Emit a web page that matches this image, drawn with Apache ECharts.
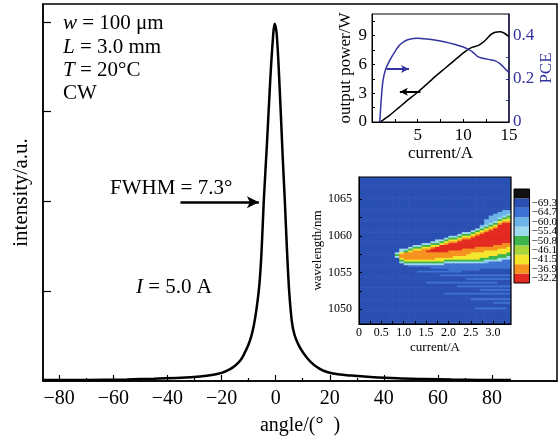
<!DOCTYPE html>
<html><head><meta charset="utf-8">
<script src="https://cdn.jsdelivr.net/npm/echarts@6/dist/echarts.min.js"></script>
<style>html,body{margin:0;padding:0;background:#fff}#c{width:560px;height:441px}</style>
</head><body><div id="c"></div><script>
// ---------- main far-field profile ----------
const angle = [-86,-70,-55,-45,-35,-28,-23,-20,-17,-15,-13,-11.5,-10,-9,-8,-7,-6,-5.2,-4.4,-3.2,-2,-1,-0.4,0.4,1.5,2.6,3.4,4.2,5,6,7,8.5,10.5,13,16,19,23,28,35,45,55,65,75,87];
const intensity = [0.01,0.012,0.018,0.025,0.035,0.05,0.07,0.09,0.13,0.17,0.23,0.31,0.41,0.5,0.63,0.82,1.08,1.45,2.0,2.65,3.35,3.82,3.98,3.86,3.25,2.5,2.0,1.45,1.0,0.66,0.51,0.4,0.3,0.21,0.14,0.1,0.075,0.06,0.045,0.03,0.022,0.016,0.012,0.01];
const mainXTicks = [-80,-60,-40,-20,0,20,40,60,80];
const mainXMinor = [-70,-50,-30,-10,10,30,50,70];
const mainYTicks = [1,2,3,4];
const fwhmArrow = [[-35.2,1.99],[-6.2,1.99]];

// ---------- inset 1: output power & PCE ----------
const currentP = [0.9,2,3,4,5,6,7,8,9,10,10.5,11,11.6,12,12.5,13,13.5,14,14.4,15];
const powerW = [0,0.75,1.55,2.35,3.1,3.95,4.8,5.6,6.4,7.2,7.55,7.8,7.95,8.2,8.6,9.1,9.35,9.4,9.3,8.9];
const currentE = [0.85,1.0,1.2,1.5,2,2.5,3,3.5,4,5,6,7,8,9,10,10.5,11,11.5,12,12.5,13,13.5,14,14.5,15];
const pceVal = [0,0.1,0.19,0.245,0.29,0.325,0.355,0.372,0.382,0.388,0.384,0.378,0.37,0.36,0.347,0.337,0.325,0.305,0.296,0.292,0.288,0.283,0.27,0.25,0.228];
const insXTicks = [2.5,5,7.5,10,12.5];
const insXLabels = [5,10,15];
const insPTicks = [1.5,3,4.5,6,7.5,9,10.5];
const insPLabels = [0,3,6,9];
const insETicks = [0.1,0.2,0.3,0.4];
const insELabels = [0,0.2,0.4];
const powerArrow = [[5.3,3.15],[3.05,3.15]];
const pceArrow = [[1.6,0.245],[4.05,0.245]];

// ---------- inset 2: spectral map ----------
const hmLevels = [-69.3,-64.7,-60.0,-55.4,-50.8,-46.1,-41.5,-36.9,-32.2];
const hmColors = ['#2b50b3','#3d72d2','#6cb3ea','#9fdaec','#3db54a','#a8d43c','#f3e62c','#f5921e','#e32a20'];
const hmX0 = 0, hmXStep = 0.1, hmYTop = 1068, hmYStep = 0.25;
const Z = "0000000000 0000000000 0000000000 0000";
const hmRows = [
Z,Z,Z,Z,Z,Z,Z,Z,Z,Z,Z,Z,Z,Z,Z,Z,Z,Z,
"0000000000 0000000000 0000000000 0022",
"0000000000 0000000000 0000000000 0222",
"0000000000 0000000000 0000000000 2223",
"0000000000 0000000000 0000000002 2234",
"0000000000 0000000000 0000000002 2345",
"0000000000 0000000000 0000000022 2466",
"0000000000 0000000000 0000000022 3677",
"0000000000 0000000000 0000000023 4788",
"0000000000 0000000000 0000000234 6888",
"0000000000 0000000000 0000000346 7888",
"0000000000 0000000000 0000003467 8888",
"0000000000 0000000000 0000034678 8888",
"0000000000 0000000000 0003346788 8888",
"0000000000 0000000000 0034467888 8888",
"0000000000 0000000000 3346678888 8888",
"0000000000 0000000003 4467788888 8888",
"0000000000 0000000334 6678888888 8888",
"0000000000 0000003346 7788888888 8888",
"0000000000 0000334467 8888888888 8877",
"0000000000 0033446688 8888888888 7777",
"0000000000 0344667888 8888887777 7776",
"0000000003 3466778888 8887777777 7666",
"0000000003 4677788888 7777777766 6666",
"0000000036 7777777777 7777766666 6664",
"0000000047 7777777777 7777666666 6444",
"0000000037 7777777777 7666666664 4443",
"0000000006 7777777666 6666666444 4333",
"0000000004 6666666664 4444444433 3311",
"0000000003 4444444443 3333333321 1111",
"0000000000 3333333331 1111111111 1111",
"0000000000 0111111111 1111111111 1111",
"0000000000 0000001111 1111111111 1111",
"0000000000 0000000000 1111111000 0000",
"0000000000 0001111111 1110000000 0000",
Z,
"0000000000 0000000011 1111111111 1111",
Z,
"0000000000 0000000000 0000111111 1111",
Z,
"0000000000 0000011111 1111111111 1000",
Z,
"0000000000 0000000000 0011111111 1111",
Z,
"0000000000 0000000000 0000000111 1111",
Z,
"0000000000 0000000001 1111111111 1111",
Z,Z,
"0000000000 0000000000 0000011111 1111",
Z,
"0000000000 0000000000 0000000000 1111",
Z,Z,
"0000000000 0000000000 0000001111 1110",
Z,Z,Z,Z,Z,Z,Z,Z
];
const hmXTicks = [0.25,0.5,0.75,1,1.25,1.5,1.75,2,2.25,2.5,2.75,3,3.25];
const hmXLabels = [0,0.5,1,1.5,2,2.5,3];
const hmYTicks = [1050,1052.5,1055,1057.5,1060,1062.5,1065];
const hmYLabels = [1050,1055,1060,1065];
// colour bar, bottom to top
const cbLabels = ['\u221232.2','\u221236.9','\u221241.5','\u221246.1','\u221250.8','\u221255.4','\u221260.0','\u221264.7','\u221269.3',''];
const cbColors = ['#e32a20','#f5921e','#f3e62c','#a8d43c','#3db54a','#9fdaec','#6cb3ea','#3d72d2','#2b50b3','#111111'];

const hmData = [];
hmRows.forEach((row, r) => {
  const s = row.replace(/ /g, '');
  for (let c = 0; c < s.length; c++) {
    hmData.push([hmX0 + c * hmXStep, hmYTop - (r + 1) * hmYStep, +s[c]]);
  }
});

const FF = 'Liberation Serif';
const BLUE = '#33339f';
const minus = v => (v < 0 ? '\u2212' + (-v) : String(v));
const zip = (a, b) => a.map((v, i) => [v, b[i]]);
const arrowLine = (pts, color, width, size) => ({
  silent: true, symbol: ['none', 'arrow'], symbolSize: size,
  label: {show: false}, lineStyle: {color: color, width: width, type: 'solid'},
  emphasis: {disabled: true},
  data: [[{coord: pts[0]}, {coord: pts[1]}]]
});

const chart = echarts.init(document.getElementById('c'), null, {renderer: 'canvas'});
const black = {color: '#000'};
chart.setOption({
  animation: false,
  textStyle: {fontFamily: FF},
  grid: [
    {left: 43, top: 4, width: 514, height: 378, show: true, borderColor: '#000', borderWidth: 1.5, backgroundColor: 'transparent'},
    {left: 372, top: 14, width: 137, height: 108, show: true, borderColor: '#000', borderWidth: 1, z: 3},
    {left: 359, top: 177, width: 152, height: 147, show: true, borderColor: '#000', borderWidth: 1.2, z: 6},
    {left: 514, top: 189, width: 16, height: 94, show: true, borderColor: '#000', borderWidth: 1, z: 6}
  ],
  xAxis: [
    {gridIndex: 0, type: 'value', min: -86, max: 104, position: 'bottom',
     axisLine: {onZero: false, lineStyle: {color: '#000', width: 1.5}},
     axisTick: {inside: true, length: 6, customValues: mainXTicks, lineStyle: {color: '#000', width: 1.2}},
     axisLabel: {customValues: mainXTicks, formatter: minus, fontSize: 20, color: '#000', margin: 8, fontFamily: FF},
     splitLine: {show: false},
     name: 'angle/(°  )', nameLocation: 'middle', nameGap: 35,
     nameTextStyle: {fontSize: 20, color: '#000', fontFamily: FF}},
    {gridIndex: 0, type: 'value', min: -86, max: 104, position: 'bottom',
     axisLine: {show: false, onZero: false},
     axisTick: {inside: true, length: 3, customValues: mainXMinor, lineStyle: {color: '#000', width: 1.2}},
     axisLabel: {show: false}, splitLine: {show: false}},
    {gridIndex: 1, type: 'value', min: 0, max: 15,
     axisLine: {onZero: false, lineStyle: {color: '#000', width: 1}},
     axisTick: {inside: true, length: 3, customValues: insXTicks, lineStyle: black},
     axisLabel: {customValues: insXLabels, fontSize: 17, color: '#000', margin: 5, fontFamily: FF},
     splitLine: {show: false},
     name: 'current/A', nameLocation: 'middle', nameGap: 22,
     nameTextStyle: {fontSize: 17, color: '#000', fontFamily: FF}},
    {gridIndex: 2, type: 'value', min: 0, max: 3.4, z: 7,
     axisLine: {onZero: false, lineStyle: {color: '#000', width: 1}},
     axisTick: {inside: true, length: 3, customValues: hmXTicks, lineStyle: black},
     axisLabel: {customValues: hmXLabels, formatter: v => (v === 0 ? '0' : v.toFixed(1)), fontSize: 12, color: '#000', margin: 3, fontFamily: FF},
     splitLine: {show: false},
     name: 'current/A', nameLocation: 'middle', nameGap: 17,
     nameTextStyle: {fontSize: 13, color: '#000', fontFamily: FF}},
    {gridIndex: 3, type: 'value', min: 0, max: 1, show: false}
  ],
  yAxis: [
    {gridIndex: 0, type: 'value', min: 0, max: 4.2,
     axisLine: {show: true, onZero: false, lineStyle: {color: '#000', width: 1.5}},
     axisTick: {show: true, inside: true, length: 8, customValues: mainYTicks, lineStyle: {color: '#000', width: 1.2}},
     axisLabel: {show: false}, splitLine: {show: false},
     name: 'intensity/a.u.', nameLocation: 'middle', nameGap: 11, nameRotate: 90,
     nameTextStyle: {fontSize: 21, color: '#000', fontFamily: FF}},
    {gridIndex: 1, type: 'value', min: 0, max: 11.25, position: 'left',
     axisLine: {show: true, onZero: false, lineStyle: {color: '#000', width: 1}},
     axisTick: {show: true, inside: true, length: 3, customValues: insPTicks, lineStyle: black},
     axisLabel: {customValues: insPLabels, fontSize: 17, color: '#000', margin: 5, fontFamily: FF},
     splitLine: {show: false},
     name: 'output power/W', nameLocation: 'middle', nameGap: 18, nameRotate: 90,
     nameTextStyle: {fontSize: 17, color: '#000', fontFamily: FF}},
    {gridIndex: 1, type: 'value', min: 0, max: 0.5, position: 'right',
     axisLine: {show: true, onZero: false, lineStyle: {color: BLUE, width: 1.5}},
     axisTick: {show: true, inside: true, length: 3, customValues: insETicks, lineStyle: {color: BLUE}},
     axisLabel: {customValues: insELabels, formatter: v => (v === 0 ? '0' : v.toFixed(1)), fontSize: 17, color: BLUE, margin: 4, fontFamily: FF},
     splitLine: {show: false},
     name: 'PCE', nameLocation: 'middle', nameGap: 27, nameRotate: 90,
     nameTextStyle: {fontSize: 17, color: BLUE, fontFamily: FF}},
    {gridIndex: 2, type: 'value', min: 1048, max: 1068, z: 7,
     axisLine: {show: true, onZero: false, lineStyle: {color: '#000', width: 1}},
     axisTick: {show: true, inside: true, length: 3, customValues: hmYTicks, lineStyle: black},
     axisLabel: {customValues: hmYLabels, formatter: v => String(v), fontSize: 12, color: '#000', margin: 7, fontFamily: FF},
     splitLine: {show: false},
     name: 'wavelength/nm', nameLocation: 'middle', nameGap: 33, nameRotate: 90,
     nameTextStyle: {fontSize: 13, color: '#000', fontFamily: FF}},
    {gridIndex: 3, type: 'category', data: cbLabels, position: 'right',
     axisLine: {show: false}, axisTick: {show: false},
     axisLabel: {interval: 0, fontSize: 11, color: '#000', margin: 2, fontFamily: FF}}
  ],
  series: [
    {type: 'line', xAxisIndex: 0, yAxisIndex: 0, data: zip(angle, intensity),
     showSymbol: false, smooth: 0.35, silent: true,
     lineStyle: {color: '#000', width: 2.5},
     markLine: arrowLine(fwhmArrow, '#000', 2.5, [9, 12])},
    {type: 'line', xAxisIndex: 2, yAxisIndex: 1, data: zip(currentP, powerW),
     showSymbol: false, smooth: 0.2, silent: true,
     lineStyle: {color: '#000', width: 1.5},
     markLine: arrowLine(powerArrow, '#000', 2, [6, 8])},
    {type: 'line', xAxisIndex: 2, yAxisIndex: 2, data: zip(currentE, pceVal),
     showSymbol: false, smooth: 0.2, silent: true,
     lineStyle: {color: BLUE, width: 1.5},
     markLine: arrowLine(pceArrow, BLUE, 2, [6, 8])},
    {type: 'custom', xAxisIndex: 3, yAxisIndex: 3, data: hmData, clip: true, silent: true,
     encode: {x: 0, y: 1},
     renderItem: (params, api) => {
       const x0 = api.value(0), y0 = api.value(1), lv = api.value(2);
       const p0 = api.coord([x0, y0 + hmYStep]);
       const p1 = api.coord([x0 + hmXStep, y0]);
       return {type: 'rect',
         shape: {x: p0[0], y: p0[1], width: p1[0] - p0[0] + 0.6, height: p1[1] - p0[1] + 0.6},
         style: {fill: hmColors[lv]}};
     }},
    {type: 'bar', xAxisIndex: 4, yAxisIndex: 4, barWidth: '100%', silent: true,
     data: cbColors.map(c => ({value: 1, itemStyle: {color: c}}))}
  ],
  graphic: [
    {type: 'text', x: 63, y: 23, style: {text: '{i|w} = 100 μm', fontSize: 21, fontFamily: FF, fill: '#000', verticalAlign: 'middle', rich: {i: {fontStyle: 'italic', fontSize: 21, fontFamily: FF}}}},
    {type: 'text', x: 63, y: 47, style: {text: '{i|L} = 3.0 mm', fontSize: 21, fontFamily: FF, fill: '#000', verticalAlign: 'middle', rich: {i: {fontStyle: 'italic', fontSize: 21, fontFamily: FF}}}},
    {type: 'text', x: 63, y: 70, style: {text: '{i|T} = 20°C', fontSize: 21, fontFamily: FF, fill: '#000', verticalAlign: 'middle', rich: {i: {fontStyle: 'italic', fontSize: 21, fontFamily: FF}}}},
    {type: 'text', x: 63, y: 93, style: {text: 'CW', fontSize: 21, fontFamily: FF, fill: '#000', verticalAlign: 'middle'}},
    {type: 'text', x: 110, y: 188, style: {text: 'FWHM = 7.3°', fontSize: 21, fontFamily: FF, fill: '#000', verticalAlign: 'middle'}},
    {type: 'text', x: 136, y: 287, style: {text: '{i|I} = 5.0 A', fontSize: 21, fontFamily: FF, fill: '#000', verticalAlign: 'middle', rich: {i: {fontStyle: 'italic', fontSize: 21, fontFamily: FF}}}}
  ]
});
</script></body></html>
